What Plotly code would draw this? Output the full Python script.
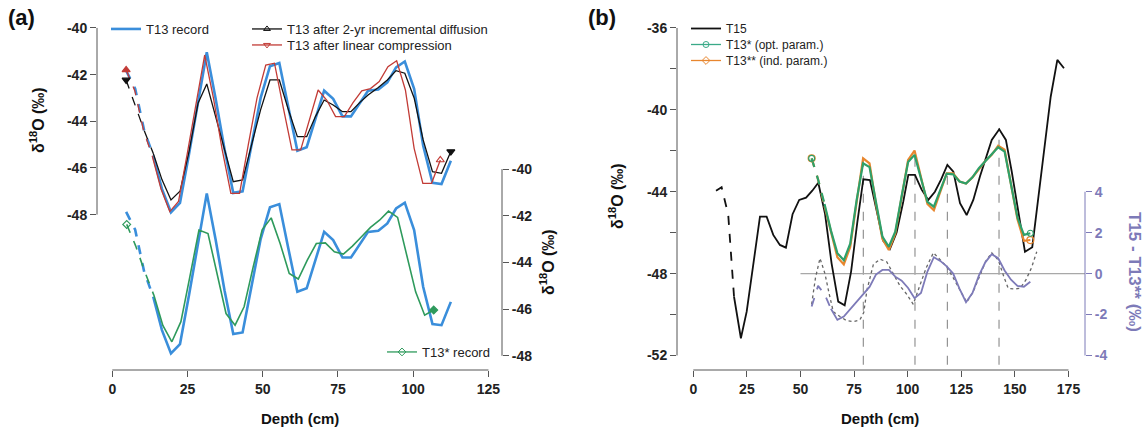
import plotly.graph_objects as go

W, H = 1146, 439
def px(x): return x / W
def py(y): return 1 - y / H

# ---------------- Panel (a) data ----------------
T13_DEPTH = [4.6, 7.6, 10.6, 13.6, 16.5, 19.5, 22.5, 25.5, 28.5, 31.4, 34.3, 37.3, 40.2, 43.3, 46.3,
             49.3, 52.4, 55.5, 58.5, 61.5, 64.6, 67.5, 70.4, 73.4, 76.5, 79.3, 82.2, 85.0, 88.4, 91.4,
             94.3, 97.2, 100.3, 103.3, 106.4, 109.4, 112.5]
T13_REC = [-41.83, -42.6, -44.4, -45.47, -46.9, -47.9, -47.5, -45.4, -43.2, -41.04, -43.0, -45.2, -47.07,
           -47.0, -45.0, -43.0, -41.64, -41.5, -43.4, -45.26, -45.11, -43.9, -42.69, -43.04, -43.79, -43.79,
           -43.2, -42.69, -42.64, -42.33, -41.69, -41.44, -42.61, -45.04, -46.64, -46.69, -45.69]
T13_DIFF = [-42.23, -43.3, -44.4, -45.37, -46.5, -47.37, -47.0, -45.3, -43.23, -42.4, -43.8, -45.2, -46.59,
            -46.51, -45.0, -43.5, -42.23, -42.23, -43.5, -44.66, -44.66, -43.8, -43.09, -43.3, -43.59, -43.59,
            -43.2, -42.87, -42.55, -42.23, -41.83, -41.94, -43.0, -44.8, -46.16, -46.23, -45.30]
COMP_DEPTH = [4.6, 7.5, 10.4, 13.3, 16.2, 19.1, 22.0, 24.9, 27.8, 30.7, 33.6, 36.5, 39.4, 42.3, 45.2, 48.1,
              51.0, 53.9, 56.8, 59.7, 62.6, 65.5, 68.4, 71.3, 74.2, 77.1, 80.0, 82.9, 85.8, 88.7, 91.6, 94.5,
              97.4, 100.3, 103.2, 106.1, 109.0]
T13_COMP = [-41.8, -42.7, -44.4, -45.5, -46.9, -47.87, -47.44, -45.4, -43.2, -41.16, -43.0, -45.2, -47.09,
            -47.09, -45.0, -43.0, -41.59, -41.51, -43.4, -45.23, -45.23, -43.9, -42.66, -43.1, -43.8, -43.8,
            -43.2, -42.7, -42.6, -42.3, -41.66, -41.41, -42.66, -45.16, -46.66, -46.66, -45.66]
T13S_DEPTH = [4.8, 7.8, 10.8, 13.8, 16.8, 19.8, 22.8, 25.8, 28.8, 31.8, 34.8, 37.8, 40.8, 43.8, 46.8, 49.8,
              52.8, 55.8, 58.8, 61.8, 64.8, 67.8, 70.8, 73.8, 76.8, 79.8, 82.8, 85.8, 88.8, 91.8, 94.8, 97.8,
              100.8, 103.8, 106.8]
T13S_REC = [-42.37, -43.3, -44.4, -45.4, -46.7, -47.4, -46.54, -44.6, -42.61, -42.76, -44.5, -46.19, -46.69,
            -45.9, -44.2, -42.6, -42.09, -43.2, -44.47, -44.71, -43.9, -43.19, -43.16, -43.54, -43.64, -43.3,
            -42.9, -42.5, -42.19, -41.8, -42.07, -43.61, -45.26, -46.26, -46.04]

# ---------------- Panel (b) data ----------------
T15_DEPTH = [10.6, 13.2, 16.3, 19.0, 22.2, 24.9, 28.0, 31.1, 34.2, 37.3, 40.4, 43.2, 46.3, 49.4, 52.6,
             55.5, 58.3, 61.4, 64.5, 67.6, 70.6, 73.6, 76.5, 79.3, 82.4, 85.5, 88.6, 91.7, 94.8, 97.9,
             100.3, 103.4, 106.5, 109.6, 112.7, 115.6, 118.5, 121.3, 124.4, 127.5, 130.6, 133.7, 136.5,
             139.2, 142.7, 145.8, 148.5, 150.8, 154.7, 158.1, 161.0, 163.9, 166.7, 169.8, 172.9]
T15_REC = [-43.95, -43.78, -45.13, -49.13, -51.16, -49.86, -47.5, -45.22, -45.22, -46.11, -46.6, -46.73,
           -45.1, -44.4, -44.29, -43.95, -43.56, -45.05, -47.5, -49.37, -49.55, -47.9, -45.5, -43.39, -43.43,
           -45.0, -46.4, -46.8, -46.0, -44.5, -43.18, -43.18, -43.9, -44.4, -44.0, -43.4, -42.69, -43.02,
           -44.56, -45.14, -44.4, -43.26, -42.3, -41.47, -40.95, -41.47, -43.0, -44.4, -46.93, -46.71,
           -44.2, -41.8, -39.36, -37.56, -37.97]
T13B_DEPTH = [55.2, 58.2, 61.2, 64.2, 67.2, 70.2, 73.2, 76.2, 79.2, 82.2, 85.2, 88.2, 91.2, 94.2, 97.2,
              100.2, 103.2, 106.2, 109.2, 112.2, 115.2, 118.2, 121.2, 124.2, 127.2, 130.2, 133.2, 136.2,
              139.2, 142.2, 145.2, 148.2, 151.2, 154.2, 157.2]
T13_OPT = [-42.37, -43.4, -44.6, -45.9, -47.0, -47.35, -46.54, -44.4, -42.61, -42.8, -44.5, -46.19, -46.69,
           -45.95, -44.2, -42.55, -42.2, -43.3, -44.5, -44.73, -43.9, -43.12, -43.15, -43.5, -43.6, -43.3,
           -42.85, -42.5, -42.2, -41.83, -42.04, -43.61, -45.26, -46.11, -46.03]
T13_IND = [-42.37, -43.4, -44.7, -46.0, -47.2, -47.55, -46.7, -44.5, -42.37, -42.61, -44.6, -46.3, -46.85,
           -46.05, -44.2, -42.45, -41.99, -43.3, -44.6, -44.9, -44.0, -43.1, -43.1, -43.5, -43.6, -43.3,
           -42.9, -42.5, -42.2, -41.75, -41.95, -43.6, -45.35, -46.4, -46.36]
DIFF_DEPTH = [55.2, 58.2, 61.2, 64.2, 67.2, 70.2, 73.2, 76.2, 79.2, 82.2, 85.2, 88.2, 91.2, 94.2, 97.2,
              100.2, 103.2, 106.2, 109.2, 112.2, 115.2, 118.2, 121.2, 124.2, 127.2, 130.2, 133.2, 136.2,
              139.2, 142.2, 145.2, 148.2, 151.2, 154.2, 157.2]
DIFF_IND = [-1.61, -0.6, -1.0, -1.72, -2.26, -2.1, -1.75, -1.37, -1.05, -0.65, -0.05, 0.18, 0.18, -0.15,
            -0.35, -0.7, -1.2, -0.95, 0.1, 0.8, 0.62, 0.35, 0.0, -0.75, -1.4, -0.95, -0.1, 0.55, 0.95, 0.75,
            0.15, -0.3, -0.6, -0.64, -0.4]
DOT_DEPTH = [55.2, 57.0, 59.1, 61.4, 63.4, 65.3, 68.4, 71.5, 74.6, 77.7, 79.5, 81.0, 84.0, 87.1, 90.2,
             93.3, 96.4, 99.5, 102.6, 105.6, 108.7, 112.0, 115.0, 118.1, 121.2, 124.3, 127.5, 130.5, 133.6,
             136.4, 139.2, 142.3, 145.0, 146.9, 149.7, 152.4, 155.2, 157.8, 160.2]
DIFF_OPT = [-1.5, -0.2, 0.75, 0.0, -1.0, -1.86, -2.1, -2.3, -2.35, -2.26, -1.9, -0.8, 0.45, 0.7, 0.58,
            -0.05, -0.6, -1.0, -1.5, -0.6, 0.3, 1.02, 0.7, 0.35, -0.2, -0.8, -1.4, -0.9, -0.1, 0.6, 1.02,
            0.65, -0.2, -0.72, -0.75, -0.72, -0.3, 0.3, 1.07]
VLINE_DEPTH = [79.3, 103.4, 118.5, 142.6]
VLINE_TOP = [-42.45, -41.96, -43.08, -40.89]

XTICKS_A = [0, 25, 50, 75, 100, 125]
YTICKS_A = [-40, -42, -44, -46, -48]
YLABELS_A = ["-40", "-42", "-44", "-46", "-48"]
XTICKS_B = [0, 25, 50, 75, 100, 125, 150, 175]
YTICKS_B = [-36, -38, -40, -42, -44, -46, -48, -50, -52]
YLABELS_B = ["-36", "", "-40", "", "-44", "", "-48", "", "-52"]
RTICKS_B = [-4, -2, 0, 2, 4]
RLABELS_B = ["-4", "-2", "0", "2", "4"]

BLUE = "#3a8edb"
RED = "#c23b36"
BLACK = "#111111"
GREEN = "#2e9a5c"
GREEN_B = "#2ea06a"
ORANGE = "#e8862e"
PURPLE = "#7d7ab8"
AXC = "#555555"
FONT = "Liberation Sans, Arial, sans-serif"
ND = 4  # leading points drawn dashed

fig = go.Figure()

def add_line(x, y, color, width, xa, ya, dash="solid", name=None, showlegend=False, legend="legend"):
    fig.add_trace(go.Scatter(x=x, y=y, mode="lines", line=dict(color=color, width=width, dash=dash),
                             xaxis=xa, yaxis=ya, name=name, showlegend=showlegend, legend=legend,
                             hoverinfo="skip"))

def add_split(x, y, color, width, xa, ya, name=None, showlegend=False, legend="legend", nd=ND):
    add_line(x[:nd], y[:nd], color, width, xa, ya, dash="dash")
    add_line(x[nd - 1:], y[nd - 1:], color, width, xa, ya, name=name, showlegend=showlegend, legend=legend)

def add_marks(x, y, color, symbols, xa, ya, size=7):
    fig.add_trace(go.Scatter(x=x, y=y, mode="markers", xaxis=xa, yaxis=ya, showlegend=False,
                             marker=dict(color=color, symbol=symbols, size=size, line=dict(color=color, width=1.2)),
                             hoverinfo="skip"))

def add_legend_entry(name, color, symbol, legend, xa, ya, width=1.3):
    fig.add_trace(go.Scatter(x=[None], y=[None], mode="lines+markers", name=name, legend=legend,
                             xaxis=xa, yaxis=ya, line=dict(color=color, width=width),
                             marker=dict(symbol=symbol, color=color, size=6, line=dict(color=color, width=1))))

# ---- Panel (a) top (left axis)
add_split(T13_DEPTH, T13_REC, BLUE, 2.6, "x", "y", name="T13 record", showlegend=True, legend="legend")
add_split(T13_DEPTH, T13_DIFF, BLACK, 1.3, "x", "y")
add_split(COMP_DEPTH, T13_COMP, RED, 1.3, "x", "y")
add_marks([T13_DEPTH[0], T13_DEPTH[-1]], [T13_DIFF[0], T13_DIFF[-1]], BLACK,
          ["triangle-down", "triangle-down"], "x", "y")
add_marks([COMP_DEPTH[0], COMP_DEPTH[-1]], [T13_COMP[0], T13_COMP[-1]], RED,
          ["triangle-up", "triangle-up-open"], "x", "y")
add_legend_entry("T13 after 2-yr incremental diffusion", BLACK, "triangle-up-open", "legend2", "x", "y")
add_legend_entry("T13 after linear compression", RED, "triangle-down-open", "legend5", "x", "y")

# ---- Panel (a) bottom (right axis)
add_split(T13_DEPTH, T13_REC, BLUE, 2.6, "x", "y2")
add_split(T13S_DEPTH, T13S_REC, GREEN, 1.6, "x", "y2")
add_marks([T13S_DEPTH[0], T13S_DEPTH[-1]], [T13S_REC[0], T13S_REC[-1]], GREEN,
          ["diamond-open", "diamond"], "x", "y2", size=6)
add_legend_entry("T13* record", GREEN, "diamond-open", "legend3", "x", "y2")

# ---- Panel (b)
for d, top in zip(VLINE_DEPTH, VLINE_TOP):
    fig.add_shape(type="line", xref="x3", yref="y3", x0=d, x1=d, y0=-52.45, y1=top,
                  line=dict(color="#8a8a8a", width=1.1, dash="dash"), layer="below")
fig.add_shape(type="line", xref="x3", yref="y4", x0=50, x1=182.7, y0=0, y1=0,
              line=dict(color="#a8a8a8", width=1.2), layer="below")

add_line(DOT_DEPTH, DIFF_OPT, "#666666", 1.3, "x3", "y4", dash="dot")
add_split(DIFF_DEPTH, DIFF_IND, PURPLE, 1.8, "x3", "y4")
add_split(T15_DEPTH, T15_REC, BLACK, 1.8, "x3", "y3", name="T15", showlegend=True, legend="legend4")
add_split(T13B_DEPTH, T13_IND, ORANGE, 2.2, "x3", "y3", nd=3)
add_split(T13B_DEPTH, T13_OPT, GREEN_B, 2.2, "x3", "y3", nd=3)
add_marks([T13B_DEPTH[0], T13B_DEPTH[-1]], [T13_IND[0], T13_IND[-1]], ORANGE,
          ["circle-open", "circle-open"], "x3", "y3", size=7)
add_marks([T13B_DEPTH[0], T13B_DEPTH[-1]], [T13_OPT[0], T13_OPT[-1]], GREEN_B,
          ["circle-open", "circle-open"], "x3", "y3", size=6)
add_legend_entry("T13* (opt. param.)", "#3aaa88", "circle-open", "legend6", "x3", "y3")
add_legend_entry("T13** (ind. param.)", ORANGE, "diamond-open", "legend7", "x3", "y3")

# ---- axes
tickfont = dict(family=FONT, size=14, color="#222222", weight="bold")
common = dict(showgrid=False, zeroline=False, showline=False, ticks="outside", ticklen=6,
              tickwidth=1, tickcolor=AXC, tickfont=tickfont, fixedrange=True)
ydom = [py(370), py(20)]
fig.update_layout(
    xaxis=dict(domain=[px(97), px(502)], range=[-5.08, 129.5], anchor="y", tickvals=XTICKS_A, **common),
    yaxis=dict(domain=ydom, range=[-54.66, -39.66], anchor="x", tickvals=YTICKS_A, ticktext=YLABELS_A, **common),
    yaxis2=dict(overlaying="y", side="right", anchor="x", range=[-48.61, -33.61], tickvals=YTICKS_A,
                ticktext=YLABELS_A, **common),
    xaxis3=dict(domain=[px(677), px(1085)], range=[-7.6, 182.7], anchor="y3", tickvals=XTICKS_B, **common),
    yaxis3=dict(domain=ydom, range=[-52.71, -35.61], anchor="x3", tickvals=YTICKS_B, ticktext=YLABELS_B, **common),
    yaxis4=dict(overlaying="y3", side="right", anchor="x3", range=[-4.71, 12.39], tickvals=RTICKS_B,
                ticktext=RLABELS_B,
                **{**common, "tickcolor": PURPLE,
                   "tickfont": dict(family=FONT, size=14, color=PURPLE, weight="bold")}),
)

# axis lines spanning the tick range (R style)
fig.add_shape(type="line", xref="x", yref="paper", x0=0, x1=125, y0=ydom[0], y1=ydom[0], line=dict(color=AXC, width=1))
fig.add_shape(type="line", xref="paper", yref="y", x0=px(97), x1=px(97), y0=-40, y1=-48, line=dict(color=AXC, width=1))
fig.add_shape(type="line", xref="paper", yref="y2", x0=px(502), x1=px(502), y0=-40, y1=-48, line=dict(color=AXC, width=1))
fig.add_shape(type="line", xref="x3", yref="paper", x0=0, x1=175, y0=ydom[0], y1=ydom[0], line=dict(color=AXC, width=1))
fig.add_shape(type="line", xref="paper", yref="y3", x0=px(677), x1=px(677), y0=-36, y1=-52, line=dict(color=AXC, width=1))
fig.add_shape(type="line", xref="paper", yref="y4", x0=px(1085), x1=px(1085), y0=-4, y1=4, line=dict(color=PURPLE, width=1))

def ann(text, x, y, size, angle=0, color="#111111", bold=True):
    fig.add_annotation(text=f"<b>{text}</b>" if bold else text, x=px(x), y=py(y), xref="paper", yref="paper",
                       showarrow=False, textangle=angle, font=dict(family=FONT, size=size, color=color),
                       xanchor="center", yanchor="middle")

ann("(a)", 21, 18, 22)
ann("(b)", 602, 18, 22)
ann("δ<sup>18</sup>O (‰)", 37, 120, 16, angle=-90)
ann("δ<sup>18</sup>O (‰)", 547, 262, 16, angle=-90)
ann("δ<sup>18</sup>O (‰)", 616, 196, 16, angle=-90)
ann("T15 - T13** (‰)", 1135, 272, 17, angle=90, color=PURPLE)
ann("Depth (cm)", 300, 418, 15)
ann("Depth (cm)", 880, 418, 15)

legfont = dict(family=FONT, size=13, color="#222222")
legbase = dict(bgcolor="rgba(0,0,0,0)", borderwidth=0, font=legfont, xanchor="left", yanchor="top",
               itemwidth=30, tracegroupgap=0, itemclick=False, itemdoubleclick=False)
legb = {**legbase, "font": dict(family=FONT, size=12, color="#222222")}
fig.update_layout(
    legend=dict(x=px(106), y=py(14), **legbase),
    legend2=dict(x=px(247), y=py(14), **legbase),
    legend5=dict(x=px(247), y=py(30), **legbase),
    legend3=dict(x=px(382), y=py(337), **legbase),
    legend4=dict(x=px(686), y=py(14), **legb),
    legend6=dict(x=px(686), y=py(30), **legb),
    legend7=dict(x=px(686), y=py(46), **legb),
    width=W, height=H, margin=dict(l=0, r=0, t=0, b=0),
    paper_bgcolor="white", plot_bgcolor="white", showlegend=True,
)

fig.write_html("out.html", config={"displayModeBar": False},
               post_script="document.body.style.margin='0';document.body.style.padding='0';")
